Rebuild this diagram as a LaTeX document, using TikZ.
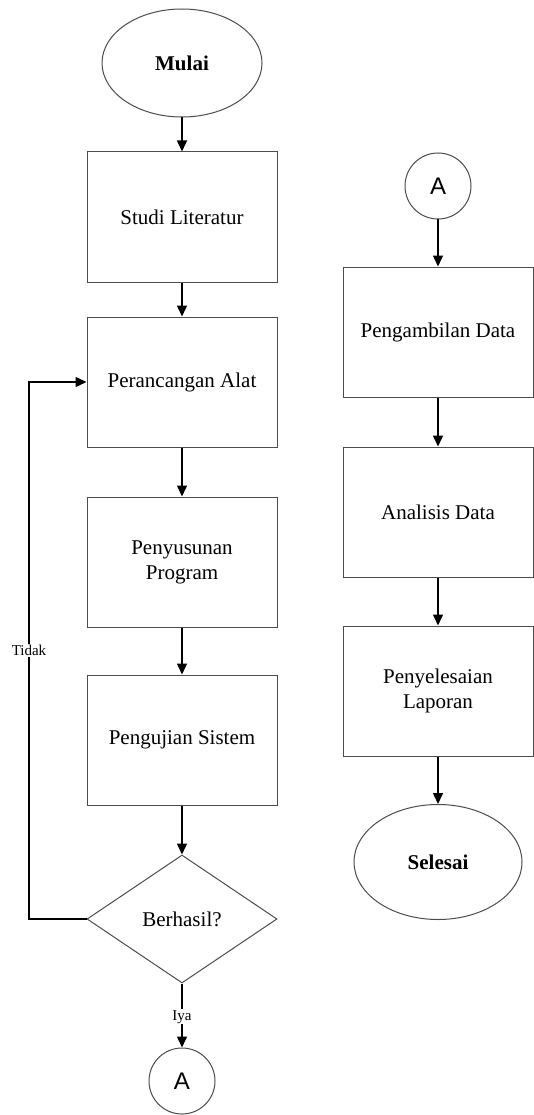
\documentclass[tikz,border=0pt]{standalone}
\usepackage{fontspec}
\setmainfont{Liberation Serif}
\newfontfamily\arialfont{Liberation Sans}
\usetikzlibrary{shapes.geometric,arrows.meta}
\tikzset{
  box/.style={draw=black!70, line width=1pt, rectangle, minimum width=190pt, minimum height=130pt, inner sep=0pt, align=center, font=\fontsize{21}{25}\selectfont},
  term/.style={draw=black!70, line width=1pt, ellipse, inner sep=0pt, font=\bfseries\fontsize{21}{25}\selectfont},
  decision/.style={draw=black!70, line width=1pt, diamond, minimum width=190pt, minimum height=128pt, inner sep=0pt, font=\fontsize{21}{25}\selectfont},
  conn/.style={draw=black!70, line width=1pt, circle, minimum size=66pt, inner sep=0pt, font=\arialfont\fontsize{24}{24}\selectfont},
  flow/.style={line width=1.5pt, -{Triangle[width=10pt,length=11pt]}},
  lbl/.style={fill=white, inner sep=1pt, font=\fontsize{15}{17}\selectfont}
}
\begin{document}
\begin{tikzpicture}[x=1pt,y=-1pt]
\useasboundingbox[fill=white] (0,0) rectangle (534,1115);
% left column
\node[term, minimum width=160pt, minimum height=108pt] (mulai) at (182,63) {Mulai};
\node[box] (studi) at (182,217) {Studi Literatur};
\node[box] (rancang) at (182,382) {Perancangan Alat};
\node[box] (susun) at (182,562) {Penyusunan\\Program};
\node[box] (uji) at (182,740) {Pengujian Sistem};
\node[decision] (hasil) at (182,919) {Berhasil?};
\node[conn] (a1) at (182,1081) {A};
% right column
\node[conn] (a2) at (438,186) {A};
\node[box] (ambil) at (438,332) {Pengambilan Data};
\node[box] (analisis) at (438,512) {Analisis Data};
\node[box] (lapor) at (438,691) {Penyelesaian\\Laporan};
\node[term, minimum width=168pt, minimum height=115pt] (selesai) at (438,862) {Selesai};
% connectors
\draw[flow] (mulai) -- (studi);
\draw[flow] (studi) -- (rancang);
\draw[flow] (rancang) -- (susun);
\draw[flow] (susun) -- (uji);
\draw[flow] (uji) -- (hasil);
\draw[flow] (hasil) -- node[lbl, pos=0.52] {Iya} (a1);
\coordinate (fb) at (29,0);
\draw[flow] (hasil.west) -| (fb |- rancang) node[lbl, pos=0.75] {Tidak} -- (rancang.west);
\draw[flow] (a2) -- (ambil);
\draw[flow] (ambil) -- (analisis);
\draw[flow] (analisis) -- (lapor);
\draw[flow] (lapor) -- (selesai);
\end{tikzpicture}
\end{document}
